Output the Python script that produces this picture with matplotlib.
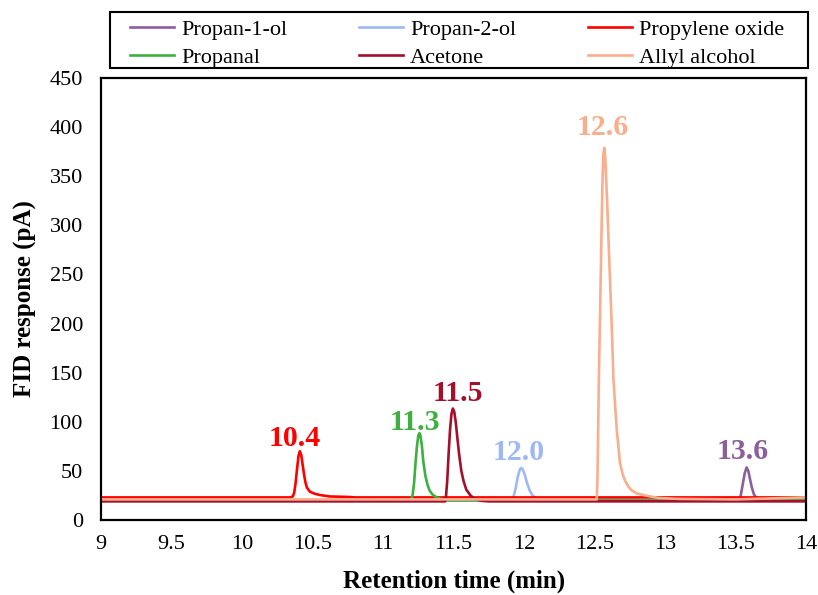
import matplotlib.pyplot as plt
from matplotlib.patches import Rectangle

plt.rcParams['font.family'] = ['Liberation Serif', 'DejaVu Serif']

# Chromatogram traces (retention time in min, FID response in pA)
t_propan1ol = [9.0, 13.52, 13.535, 13.55, 13.565, 13.578, 13.59, 13.60, 13.615, 13.63, 13.65, 13.68, 13.72, 14.0]
y_propan1ol = [20, 20, 24, 36, 48, 53.5, 50, 43, 33, 26, 22, 20.5, 20, 20]

t_propan2ol = [9.0, 11.91, 11.925, 11.94, 11.955, 11.97, 11.98, 11.99, 12.005, 12.02, 12.04, 12.06, 12.09, 12.13, 12.16, 14.0]
y_propan2ol = [20, 20, 24, 32, 44, 51.5, 53, 51.5, 46, 38, 30, 25, 22, 20.5, 20, 20]

t_propylene_oxide = [9.0, 10.34, 10.36, 10.37, 10.38, 10.39, 10.40, 10.41, 10.42, 10.43, 10.44, 10.45,
                     10.46, 10.48, 10.51, 10.55, 10.62, 10.75, 10.80, 14.0]
y_propylene_oxide = [23, 23, 24, 28, 38, 52, 65, 70, 66, 56, 46, 38, 33, 29, 27, 25.5, 24, 23.5, 23, 23]

t_propanal = [9.0, 11.19, 11.20, 11.21, 11.22, 11.23, 11.24, 11.25, 11.258, 11.265, 11.275, 11.285,
              11.30, 11.315, 11.33, 11.35, 11.38, 11.42, 11.46, 14.0]
y_propanal = [20, 20, 21, 26, 38, 58, 75, 86, 88.5, 86, 76, 60, 45, 36, 30, 26, 23, 21, 20, 20]

t_acetone = [9.0, 11.44, 11.445, 11.455, 11.465, 11.475, 11.485, 11.495, 11.505, 11.515, 11.525, 11.54,
             11.555, 11.57, 11.59, 11.62, 11.65, 11.70, 11.75, 14.0]
y_acetone = [19, 19, 22, 40, 68, 92, 108, 113.5, 110, 100, 86, 66, 50, 40, 31, 25, 21.5, 19.5, 19, 19]

t_allyl = [9.0, 12.515, 12.52, 12.53, 12.545, 12.555, 12.562, 12.568, 12.575, 12.59, 12.605, 12.62, 12.634,
           12.657, 12.68, 12.70, 12.716, 12.74, 12.76, 12.80, 12.86, 12.95, 13.1, 13.5, 14.0]
y_allyl = [21, 21, 40, 142, 260, 340, 372, 379, 370, 320, 260, 204, 142,
           92, 58, 46, 40, 34, 30.5, 27, 25, 22.5, 21.5, 21, 23]

# peak labels (retention times)
peak_labels = ['13.6', '12.0', '10.4', '11.3', '11.5', '12.6']

names = ['Propan-1-ol', 'Propan-2-ol', 'Propylene oxide', 'Propanal', 'Acetone', 'Allyl alcohol']
colors = ['#8C5E9E', '#9DB8F5', '#FF0000', '#3DB041', '#A3102C', '#FBAE8C']
traces = [(t_propan1ol, y_propan1ol), (t_propan2ol, y_propan2ol),
          (t_propylene_oxide, y_propylene_oxide), (t_propanal, y_propanal),
          (t_acetone, y_acetone), (t_allyl, y_allyl)]
# label offsets in pixels from the apex
offsets = [(-4, 8), (-3, 8), (-5, 5), (-5, 3), (5, 8), (-2, 13)]

fig = plt.figure(figsize=(8.18, 5.95), dpi=100)
ax = fig.add_axes([0.1235, 0.126, 0.862, 0.743])

lines = {}
for name, col, (t, y), lab, off in zip(names, colors, traces, peak_labels, offsets):
    ln, = ax.plot(t, y, color=col, lw=1.9, label=name)
    lines[name] = ln
    i = y.index(max(y))
    ax.annotate(lab, (t[i], y[i]), xytext=off, textcoords='offset pixels',
                ha='center', va='baseline', color=col, fontsize=21.5, fontweight='bold')

ax.set_xlim(9, 14)
ax.set_ylim(0, 450)
ax.set_xticks([9, 9.5, 10, 10.5, 11, 11.5, 12, 12.5, 13, 13.5, 14])
ax.set_xticklabels(['9', '9.5', '10', '10.5', '11', '11.5', '12', '12.5', '13', '13.5', '14'])
ax.set_yticks(range(0, 451, 50))
ax.tick_params(axis='both', length=0, labelsize=16)
ax.tick_params(axis='x', pad=10.5)
ax.tick_params(axis='y', pad=13)
for s in ax.spines.values():
    s.set_color('black')
    s.set_linewidth(1.6)

ax.set_xlabel('Retention time (min)', fontsize=18, fontweight='bold')
ax.set_ylabel('FID response (pA)', fontsize=18, fontweight='bold')
ax.xaxis.set_label_coords(0.5, -0.112)
ax.yaxis.set_label_coords(-0.091, 0.5)

# legend filled column by column, so order to read row-wise
order = ['Propan-1-ol', 'Propanal', 'Propan-2-ol', 'Acetone', 'Propylene oxide', 'Allyl alcohol']
leg = fig.legend([lines[n] for n in order], order, ncol=3, loc='upper left',
                 bbox_to_anchor=(130 / 818, 1 - 19 / 595, 654 / 818, 0), mode='expand',
                 borderaxespad=0, borderpad=0, fontsize=16, frameon=False,
                 handlelength=2.0, handletextpad=0.3, labelspacing=0.36)
# box around the legend
fig.patches.append(Rectangle((110 / 818, 1 - 68 / 595), 698 / 818, 56 / 595,
                             transform=fig.transFigure, fill=False,
                             edgecolor='black', linewidth=1.5))

fig.savefig('out.png', dpi=100)
